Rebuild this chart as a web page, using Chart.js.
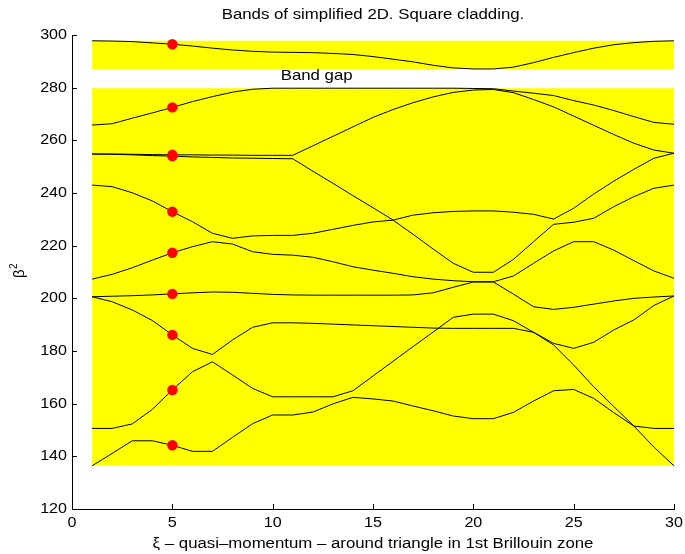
<!DOCTYPE html>
<html>
<head>
<meta charset="utf-8">
<title>Bands of simplified 2D. Square cladding.</title>
<script src="https://cdn.jsdelivr.net/npm/chart.js@4.4.1/dist/chart.umd.min.js"></script>
<style>
  html, body { margin: 0; padding: 0; background: #fff; }
  canvas { display: block; }
</style>
</head>
<body>
<canvas id="bandChart" width="685" height="554"></canvas>
<script>
/* -------------------------------------------------------
   Data: beta^2 along the triangle path (xi = 1..30)
------------------------------------------------------- */
const xi = [1, 2, 3, 4, 5, 6, 7, 8, 9, 10, 11, 12, 13, 14, 15, 16, 17, 18, 19, 20, 21, 22, 23, 24, 25, 26, 27, 28, 29, 30];

const band1  = [136.4, 141.1, 145.9, 145.9, 144.2, 141.9, 141.9, 147.2, 152.4, 155.7, 155.7, 156.8, 159.9, 162.4, 161.8, 161.0, 159.1, 157.3, 155.3, 154.3, 154.3, 156.7, 161.0, 164.9, 165.4, 162.0, 156.6, 151.5, 150.6, 150.6];
const band2  = [150.6, 150.6, 152.3, 157.8, 165.2, 172.1, 175.9, 170.9, 165.8, 162.6, 162.6, 162.6, 162.6, 164.9, 170.5, 176.1, 181.7, 187.2, 192.8, 194.0, 194.0, 191.5, 187.1, 182.3, 174.7, 166.4, 158.9, 151.5, 143.5, 136.4];
const band3  = [200.6, 198.7, 195.6, 191.6, 186.1, 181.0, 178.7, 184.2, 189.0, 190.7, 190.7, 190.5, 190.2, 189.9, 189.6, 189.3, 189.0, 188.7, 188.6, 188.6, 188.6, 188.6, 187.1, 182.9, 181.0, 183.3, 188.0, 191.8, 197.3, 200.9];
const band4  = [200.6, 200.8, 201.0, 201.3, 201.7, 202.1, 202.4, 202.3, 201.9, 201.5, 201.3, 201.2, 201.2, 201.2, 201.2, 201.2, 201.3, 202.1, 204.2, 206.2, 206.2, 201.6, 196.8, 195.8, 196.6, 197.8, 199.0, 200.0, 200.5, 200.9];
const band5  = [207.3, 209.1, 211.6, 214.5, 217.3, 219.6, 221.5, 220.6, 217.7, 216.7, 216.4, 215.6, 213.9, 212.0, 210.7, 209.5, 208.2, 207.3, 206.7, 206.3, 206.3, 208.5, 213.3, 218.0, 221.5, 221.5, 218.3, 214.3, 210.4, 207.6];
const band6  = [243.0, 242.4, 240.1, 237.0, 232.9, 229.1, 224.7, 222.8, 223.7, 223.9, 223.9, 224.7, 226.2, 227.7, 229.0, 229.7, 224.3, 218.7, 213.3, 209.9, 209.9, 214.8, 221.5, 228.1, 228.9, 230.4, 234.8, 238.6, 241.8, 243.0];
const band7  = [254.8, 254.7, 254.5, 254.2, 254.0, 253.7, 253.5, 253.3, 253.2, 253.1, 253.0, 248.3, 243.7, 239.0, 234.4, 229.7, 231.6, 232.5, 233.0, 233.2, 233.2, 232.7, 231.9, 230.1, 234.2, 239.6, 244.5, 249.0, 253.2, 255.1];
const band8  = [254.8, 254.8, 254.7, 254.6, 254.5, 254.5, 254.4, 254.4, 254.3, 254.3, 254.3, 257.9, 261.5, 265.1, 268.7, 271.7, 274.3, 276.5, 278.2, 279.1, 279.3, 278.1, 275.5, 272.7, 269.2, 265.7, 262.2, 258.9, 256.3, 255.1];
const band9  = [265.8, 266.3, 268.4, 270.4, 272.5, 274.7, 276.6, 278.3, 279.4, 279.8, 279.8, 279.8, 279.8, 279.8, 279.8, 279.8, 279.8, 279.8, 279.8, 279.7, 279.6, 278.7, 277.9, 277.0, 275.1, 273.4, 271.3, 269.0, 266.8, 266.1];
const band10 = [297.8, 297.7, 297.5, 297.0, 296.5, 295.8, 295.0, 294.3, 293.8, 293.5, 293.4, 293.3, 293.0, 292.6, 291.8, 290.8, 289.8, 288.5, 287.5, 287.1, 287.1, 287.8, 289.5, 291.5, 293.3, 295.0, 296.3, 297.1, 297.6, 297.8];

const bands = [band1, band2, band3, band4, band5, band6, band7, band8, band9, band10];

// red markers sit on every band at this xi
const markerXi = 5;

// tick labels
const xTicks = [0, 5, 10, 15, 20, 25, 30];
const yTicks = [120, 140, 160, 180, 200, 220, 240, 260, 280, 300];

/* -------------------------------------------------------
   Style
------------------------------------------------------- */
const FONT = "'Liberation Sans', Arial, Helvetica, sans-serif";
const YELLOW = '#ffff00';

// pass bands (yellow) come from the band extents
const lowerPass = [Math.min(...band1), Math.max(...band9)];
const upperPass = [Math.min(...band10), Math.max(...band10)];
const xFrom = xi[0], xTo = xi[xi.length - 1];

const passDataset = (lo, hi) => ({
  data: [{ x: xFrom, y: hi }, { x: xTo, y: hi }],
  borderWidth: 0,
  pointRadius: 0,
  backgroundColor: YELLOW,
  fill: { value: lo },
  order: 3,
});

const bandDatasets = bands.map(b => ({
  data: xi.map((x, i) => ({ x, y: b[i] })),
  borderColor: '#000',
  borderWidth: 1,
  pointRadius: 0,
  tension: 0,
  fill: false,
  order: 2,
}));

const mi = xi.indexOf(markerXi);
const markerDataset = {
  type: 'scatter',
  data: bands.map(b => ({ x: markerXi, y: b[mi] })),
  backgroundColor: '#ff0000',
  borderWidth: 0,
  pointRadius: 5.2,
  order: 1,
};

// text a bit wider than Arial, like the original export
function wideText(ctx, str, x, y, size, align, stretch) {
  ctx.save();
  ctx.translate(x, y);
  ctx.scale(stretch || 1.2, 1);
  ctx.font = size + 'px ' + FONT;
  ctx.textAlign = align;
  ctx.textBaseline = 'middle';
  ctx.fillText(str, 0, 0);
  ctx.restore();
}

/* -------------------------------------------------------
   Plugin: inward ticks + texts (MATLAB look)
------------------------------------------------------- */
const matlabDecor = {
  id: 'matlabDecor',
  afterDraw(chart) {
    const { ctx, chartArea: a, scales: { x, y } } = chart;
    ctx.save();
    ctx.strokeStyle = '#000';
    ctx.fillStyle = '#000';
    ctx.lineWidth = 1;
    ctx.beginPath();
    xTicks.forEach(v => {
      const px = Math.round(x.getPixelForValue(v)) + 0.5;
      ctx.moveTo(px, a.bottom);
      ctx.lineTo(px, a.bottom - 5);
    });
    yTicks.forEach(v => {
      const py = Math.round(y.getPixelForValue(v)) + 0.5;
      ctx.moveTo(a.left, py);
      ctx.lineTo(a.left + 5, py);
    });
    ctx.stroke();

    // tick labels
    xTicks.forEach(v => wideText(ctx, String(v), x.getPixelForValue(v), a.bottom + 14, 14, 'center', 1.15));
    yTicks.forEach(v => wideText(ctx, String(v), a.left - 5, y.getPixelForValue(v), 14, 'right', 1.15));

    // title
    wideText(ctx, 'Bands of simplified 2D. Square cladding.', (a.left + a.right) / 2, 15, 14, 'center');

    // band gap label
    wideText(ctx, 'Band gap', x.getPixelForValue(10.4), y.getPixelForValue(284.4), 15, 'left', 1.12);

    // x label
    wideText(ctx, '\u03be \u2013 quasi\u2013momentum \u2013 around triangle in 1st Brillouin zone', (a.left + a.right) / 2, 544, 14, 'center');

    // y label: beta with superscript 2
    ctx.translate(19, 271);
    ctx.rotate(-Math.PI / 2);
    ctx.font = '15px ' + FONT;
    const bw = ctx.measureText('\u03b2').width;
    ctx.font = '10px ' + FONT;
    const sw = ctx.measureText('2').width;
    const x0 = -(bw + sw) / 2;
    ctx.textAlign = 'left';
    ctx.textBaseline = 'middle';
    ctx.font = '15px ' + FONT;
    ctx.fillText('\u03b2', x0, 1);
    ctx.font = '10px ' + FONT;
    ctx.fillText('2', x0 + bw + 0.5, -5);
    ctx.restore();
  }
};

/* -------------------------------------------------------
   Chart
------------------------------------------------------- */
new Chart(document.getElementById('bandChart'), {
  type: 'line',
  data: {
    datasets: [markerDataset, ...bandDatasets, passDataset(...upperPass), passDataset(...lowerPass)]
  },
  options: {
    responsive: false,
    animation: false,
    devicePixelRatio: 1,
    layout: { padding: { top: 35, right: 11, bottom: 0, left: 0 } },
    plugins: {
      legend: { display: false },
      tooltip: { enabled: false },
      title: { display: false },
    },
    scales: {
      x: {
        type: 'linear',
        min: 0,
        max: 30,
        afterFit: s => { s.height = 45; },
        grid: { display: false, drawTicks: false },
        border: { display: true, color: '#000', width: 1 },
        ticks: { display: false, stepSize: 5 },
      },
      y: {
        type: 'linear',
        min: 120,
        max: 300,
        afterFit: s => { s.width = 72; },
        grid: { display: false, drawTicks: false },
        border: { display: true, color: '#000', width: 1 },
        ticks: { display: false, stepSize: 20 },
      }
    }
  },
  plugins: [matlabDecor]
});
</script>
</body>
</html>
